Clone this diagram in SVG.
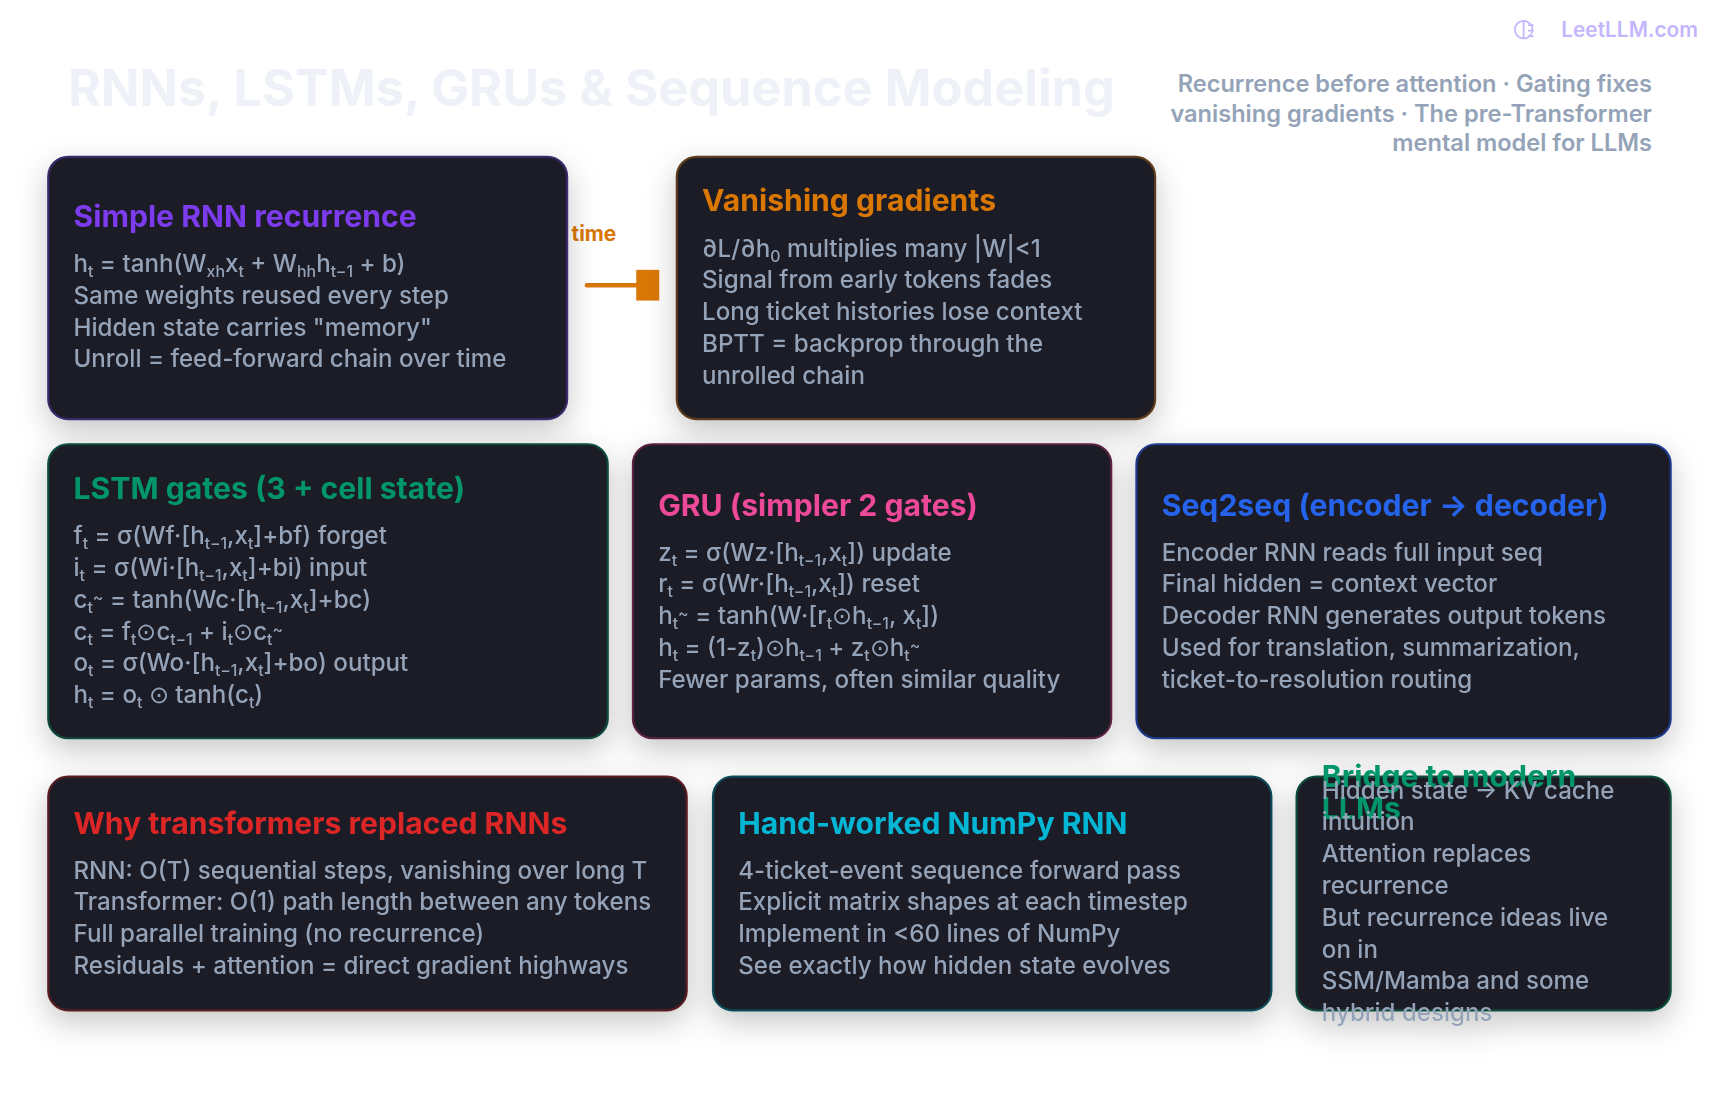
<svg xmlns="http://www.w3.org/2000/svg" width="1720" height="1120" viewBox="0 0 1720 1120">
<defs>
<filter id="sh" x="-20%" y="-20%" width="140%" height="150%"><feDropShadow dx="0" dy="10" stdDeviation="14" flood-color="#000" flood-opacity="0.22"/></filter>
<style>
text{font-family:Inter,"Noto Sans","Liberation Sans",sans-serif}
.box{fill:#1c1b26;stroke-width:2}
.t{font-size:27.5px;font-weight:700}
.b{font-size:22px;fill:#94a3b8;font-weight:500}
.s{font-size:14.5px}
</style>
</defs>
<rect width="1720" height="1120" fill="#ffffff"/>
<g transform="scale(1.09694)">
<text x="62" y="97" font-size="46" font-weight="700" fill="#eef1f7">RNNs, LSTMs, GRUs &amp; Sequence Modeling</text>
<text x="1506" y="84" font-size="21.5" font-weight="600" fill="#94a3b8" text-anchor="end">Recurrence before attention · Gating fixes</text>
<text x="1506" y="111" font-size="21.5" font-weight="600" fill="#94a3b8" text-anchor="end">vanishing gradients · The pre-Transformer</text>
<text x="1506" y="138" font-size="21.5" font-weight="600" fill="#94a3b8" text-anchor="end">mental model for LLMs</text>
<text x="1548" y="34" font-size="19" font-weight="600" fill="#c4b5fd" text-anchor="end">LeetLLM.com</text>
<g id="logo" fill="none" stroke="#c4b5fd" stroke-width="1.6"><circle cx="1389" cy="27" r="8"/><path d="M1389 19v16M1393 23h5M1393 28h5M1393 33h5"/></g>

<g id="connectors">
<text x="521" y="220" font-size="19" font-weight="700" fill="#d97706">time</text>
<line x1="535" y1="260" x2="582" y2="260" stroke="#d97706" stroke-width="4" stroke-linecap="round"/>
<rect x="580" y="246" width="21" height="28" fill="#d97706"/>
</g>

<g id="rnn" filter="url(#sh)">
<rect class="box" x="44" y="143" width="473" height="239" rx="18" stroke="#3b2a6b"/>
<text class="t" x="67" y="207" fill="#7c3aed">Simple RNN recurrence</text>
<text class="b" x="67" y="248">h<tspan class="s" baseline-shift="-5">t</tspan> = tanh(W<tspan class="s" baseline-shift="-5">xh</tspan>x<tspan class="s" baseline-shift="-5">t</tspan> + W<tspan class="s" baseline-shift="-5">hh</tspan>h<tspan class="s" baseline-shift="-5">t−1</tspan> + b)</text>
<text class="b" x="67" y="277">Same weights reused every step</text>
<text class="b" x="67" y="306">Hidden state carries "memory"</text>
<text class="b" x="67" y="335">Unroll = feed-forward chain over time</text>
</g>

<g id="vanish" filter="url(#sh)">
<rect class="box" x="617" y="143" width="436" height="239" rx="18" stroke="#5a3a1a"/>
<text class="t" x="640" y="192" fill="#d97706">Vanishing gradients</text>
<text class="b" x="640" y="234">∂L/∂h<tspan class="s" baseline-shift="-5">0</tspan> multiplies many |W|&lt;1</text>
<text class="b" x="640" y="263">Signal from early tokens fades</text>
<text class="b" x="640" y="292">Long ticket histories lose context</text>
<text class="b" x="640" y="321">BPTT = backprop through the</text>
<text class="b" x="640" y="350">unrolled chain</text>
</g>

<g id="lstm" filter="url(#sh)">
<rect class="box" x="44" y="405" width="510" height="268" rx="18" stroke="#0f4b3a"/>
<text class="t" x="67" y="455" fill="#059669">LSTM gates (3 + cell state)</text>
<text class="b" x="67" y="496">f<tspan class="s" baseline-shift="-5">t</tspan> = σ(Wf·[h<tspan class="s" baseline-shift="-5">t−1</tspan>,x<tspan class="s" baseline-shift="-5">t</tspan>]+bf) forget</text>
<text class="b" x="67" y="525">i<tspan class="s" baseline-shift="-5">t</tspan> = σ(Wi·[h<tspan class="s" baseline-shift="-5">t−1</tspan>,x<tspan class="s" baseline-shift="-5">t</tspan>]+bi) input</text>
<text class="b" x="67" y="554">c<tspan class="s" baseline-shift="-5">t</tspan><tspan class="s" baseline-shift="5">~</tspan> = tanh(Wc·[h<tspan class="s" baseline-shift="-5">t−1</tspan>,x<tspan class="s" baseline-shift="-5">t</tspan>]+bc)</text>
<text class="b" x="67" y="583">c<tspan class="s" baseline-shift="-5">t</tspan> = f<tspan class="s" baseline-shift="-5">t</tspan>⊙c<tspan class="s" baseline-shift="-5">t−1</tspan> + i<tspan class="s" baseline-shift="-5">t</tspan>⊙c<tspan class="s" baseline-shift="-5">t</tspan><tspan class="s" baseline-shift="5">~</tspan></text>
<text class="b" x="67" y="612">o<tspan class="s" baseline-shift="-5">t</tspan> = σ(Wo·[h<tspan class="s" baseline-shift="-5">t−1</tspan>,x<tspan class="s" baseline-shift="-5">t</tspan>]+bo) output</text>
<text class="b" x="67" y="641">h<tspan class="s" baseline-shift="-5">t</tspan> = o<tspan class="s" baseline-shift="-5">t</tspan> ⊙ tanh(c<tspan class="s" baseline-shift="-5">t</tspan>)</text>
</g>

<g id="gru" filter="url(#sh)">
<rect class="box" x="577" y="405" width="436" height="268" rx="18" stroke="#5a2340"/>
<text class="t" x="600" y="470" fill="#ec4899">GRU (simpler 2 gates)</text>
<text class="b" x="600" y="511">z<tspan class="s" baseline-shift="-5">t</tspan> = σ(Wz·[h<tspan class="s" baseline-shift="-5">t−1</tspan>,x<tspan class="s" baseline-shift="-5">t</tspan>]) update</text>
<text class="b" x="600" y="540">r<tspan class="s" baseline-shift="-5">t</tspan> = σ(Wr·[h<tspan class="s" baseline-shift="-5">t−1</tspan>,x<tspan class="s" baseline-shift="-5">t</tspan>]) reset</text>
<text class="b" x="600" y="569">h<tspan class="s" baseline-shift="-5">t</tspan><tspan class="s" baseline-shift="5">~</tspan> = tanh(W·[r<tspan class="s" baseline-shift="-5">t</tspan>⊙h<tspan class="s" baseline-shift="-5">t−1</tspan>, x<tspan class="s" baseline-shift="-5">t</tspan>])</text>
<text class="b" x="600" y="598">h<tspan class="s" baseline-shift="-5">t</tspan> = (1-z<tspan class="s" baseline-shift="-5">t</tspan>)⊙h<tspan class="s" baseline-shift="-5">t−1</tspan> + z<tspan class="s" baseline-shift="-5">t</tspan>⊙h<tspan class="s" baseline-shift="-5">t</tspan><tspan class="s" baseline-shift="5">~</tspan></text>
<text class="b" x="600" y="627">Fewer params, often similar quality</text>
</g>

<g id="seq2seq" filter="url(#sh)">
<rect class="box" x="1036" y="405" width="487" height="268" rx="18" stroke="#1e3a8a"/>
<text class="t" x="1059" y="470" fill="#2563eb">Seq2seq (encoder → decoder)</text>
<text class="b" x="1059" y="511">Encoder RNN reads full input seq</text>
<text class="b" x="1059" y="540">Final hidden = context vector</text>
<text class="b" x="1059" y="569">Decoder RNN generates output tokens</text>
<text class="b" x="1059" y="598">Used for translation, summarization,</text>
<text class="b" x="1059" y="627">ticket-to-resolution routing</text>
</g>

<g id="why" filter="url(#sh)">
<rect class="box" x="44" y="708" width="582" height="213" rx="18" stroke="#5a1f24"/>
<text class="t" x="67" y="760" fill="#dc2626">Why transformers replaced RNNs</text>
<text class="b" x="67" y="801">RNN: O(T) sequential steps, vanishing over long T</text>
<text class="b" x="67" y="830">Transformer: O(1) path length between any tokens</text>
<text class="b" x="67" y="859">Full parallel training (no recurrence)</text>
<text class="b" x="67" y="888">Residuals + attention = direct gradient highways</text>
</g>

<g id="numpy" filter="url(#sh)">
<rect class="box" x="650" y="708" width="509" height="213" rx="18" stroke="#0e4a55"/>
<text class="t" x="673" y="760" fill="#06b6d4">Hand-worked NumPy RNN</text>
<text class="b" x="673" y="801">4-ticket-event sequence forward pass</text>
<text class="b" x="673" y="830">Explicit matrix shapes at each timestep</text>
<text class="b" x="673" y="859">Implement in &lt;60 lines of NumPy</text>
<text class="b" x="673" y="888">See exactly how hidden state evolves</text>
</g>

<g id="bridge" filter="url(#sh)">
<rect class="box" x="1182" y="708" width="341" height="213" rx="18" stroke="#0f4b3a"/>
<text class="t" x="1205" y="717" fill="#059669" font-size="25">Bridge to modern</text>
<text class="t" x="1205" y="747" fill="#059669" font-size="25">LLMs</text>
<text class="b" x="1205" y="728">Hidden state → KV cache</text>
<text class="b" x="1205" y="757">intuition</text>
<text class="b" x="1205" y="786">Attention replaces</text>
<text class="b" x="1205" y="815">recurrence</text>
<text class="b" x="1205" y="844">But recurrence ideas live</text>
<text class="b" x="1205" y="873">on in</text>
<text class="b" x="1205" y="902">SSM/Mamba and some</text>
<text class="b" x="1205" y="931">hybrid designs</text>
</g>
</g>
</svg>
